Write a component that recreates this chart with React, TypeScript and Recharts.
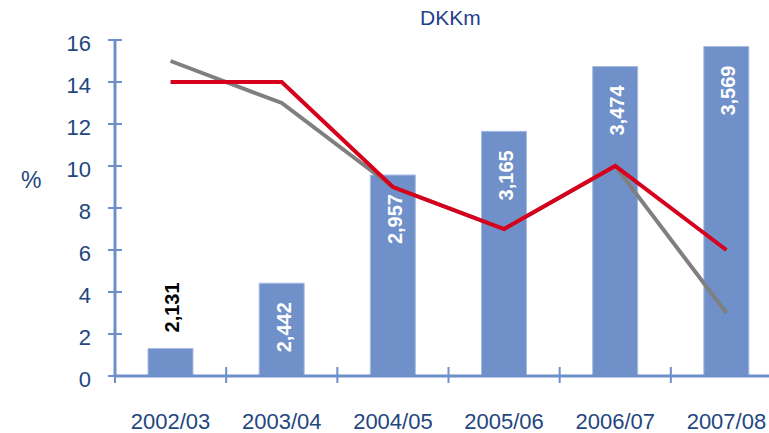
import React from "react";
import {
  ComposedChart,
  Bar,
  Line,
  XAxis,
  YAxis,
  LabelList,
} from "recharts";

// Financial years on the category axis
const years = ["2002/03", "2003/04", "2004/05", "2005/06", "2006/07", "2007/08"];
// Bars: DKKm (read on a hidden 2000-3600 scale)
const dkkm = [2131, 2442, 2957, 3165, 3474, 3569];
// Lines: percentages on the left axis
const greyPct = [15, 13, 9, 7, 10, 3];
const redPct = [14, 14, 9, 7, 10, 6];
const pctTicks = [0, 2, 4, 6, 8, 10, 12, 14, 16];
const dkkDomain = [2000, 3600];

const AXIS_COLOR = "#6f8fca";
const TEXT_COLOR = "#23467f";
const BAR_COLOR = "#7090c9";
const FONT = "'Liberation Sans', Arial, sans-serif";

const CHART_WIDTH = 782;
const Y_AXIS_WIDTH = 115;
const BAND = (CHART_WIDTH - Y_AXIS_WIDTH) / years.length;

const data = years.map((year, i) => ({
  year,
  dkkm: dkkm[i],
  grey: greyPct[i],
  red: redPct[i],
}));

/**
 * Y tick: cross mark through the axis plus right-aligned number
 */
function PctTick(props: any) {
  const { x, y, payload } = props;
  return (
    <g>
      <line x1={x - 7} x2={x + 7} y1={y} y2={y} stroke={AXIS_COLOR} strokeWidth={2} />
      <text
        x={x - 24}
        y={y + 3}
        dy="0.36em"
        textAnchor="end"
        fontSize={22}
        fontFamily={FONT}
        fill={TEXT_COLOR}
      >
        {payload.value}
      </text>
    </g>
  );
}

/**
 * X tick: cross mark on the band's left edge plus centred label
 */
function YearTick(props: any) {
  const { x, y, payload } = props;
  const edge = x - BAND / 2;
  return (
    <g>
      <line x1={edge} x2={edge} y1={y - 9} y2={y + 7} stroke={AXIS_COLOR} strokeWidth={2} />
      <text
        x={x}
        y={y + 53}
        textAnchor="middle"
        fontSize={22}
        fontFamily={FONT}
        fill={TEXT_COLOR}
      >
        {payload.value}
      </text>
    </g>
  );
}

/**
 * Vertical value label: inside the bar top, or above it for the short first bar
 */
function BarValueLabel(props: any) {
  const { x, y, width, value, index } = props;
  const cx = x + width / 2 + 2;
  const text = Number(value).toLocaleString("en-US");
  const outside = index === 0;
  const ty = outside ? y - 16 : y + 19;
  return (
    <text
      x={cx}
      y={ty}
      transform={`rotate(-90 ${cx} ${ty})`}
      textAnchor={outside ? "start" : "end"}
      dominantBaseline="central"
      fontSize={20}
      fontWeight="bold"
      fontFamily={FONT}
      fill={outside ? "#000000" : "#ffffff"}
    >
      {text}
    </text>
  );
}

export default function App() {
  return (
    <div
      style={{
        position: "absolute",
        left: 0,
        top: 0,
        width: 769,
        height: 433,
        overflow: "hidden",
        background: "#ffffff",
        fontFamily: FONT,
      }}
    >
      <ComposedChart
        width={CHART_WIDTH}
        height={433}
        data={data}
        margin={{ top: 40, right: 0, left: 0, bottom: 0 }}
      >
        <XAxis
          dataKey="year"
          height={57}
          tickSize={0}
          tickMargin={0}
          tickLine={false}
          interval={0}
          axisLine={{ stroke: AXIS_COLOR, strokeWidth: 3 }}
          tick={<YearTick />}
        />
        <YAxis
          yAxisId="pct"
          width={Y_AXIS_WIDTH}
          domain={[0, 16]}
          ticks={pctTicks}
          interval={0}
          tickSize={0}
          tickMargin={0}
          tickLine={false}
          axisLine={{ stroke: AXIS_COLOR, strokeWidth: 3 }}
          tick={<PctTick />}
        />
        <YAxis
          yAxisId="dkk"
          orientation="right"
          domain={dkkDomain}
          allowDataOverflow
          hide
        />
        <Bar
          yAxisId="dkk"
          dataKey="dkkm"
          barSize={45}
          fill={BAR_COLOR}
          stroke="#a9bde2"
          strokeWidth={1}
          isAnimationActive={false}
        >
          <LabelList dataKey="dkkm" content={<BarValueLabel />} />
        </Bar>
        <Line
          yAxisId="pct"
          dataKey="grey"
          stroke="#7f7f7f"
          strokeWidth={4}
          dot={false}
          isAnimationActive={false}
        />
        <Line
          yAxisId="pct"
          dataKey="red"
          stroke="#d6001c"
          strokeWidth={4}
          dot={false}
          isAnimationActive={false}
        />
      </ComposedChart>
      <div
        style={{
          position: "absolute",
          left: 420,
          top: 5,
          fontSize: 21,
          color: "#1f3f8c",
          lineHeight: "26px",
        }}
      >
        DKKm
      </div>
      <div
        style={{
          position: "absolute",
          left: 21,
          top: 166,
          fontSize: 23,
          color: TEXT_COLOR,
          lineHeight: "28px",
        }}
      >
        %
      </div>
    </div>
  );
}
